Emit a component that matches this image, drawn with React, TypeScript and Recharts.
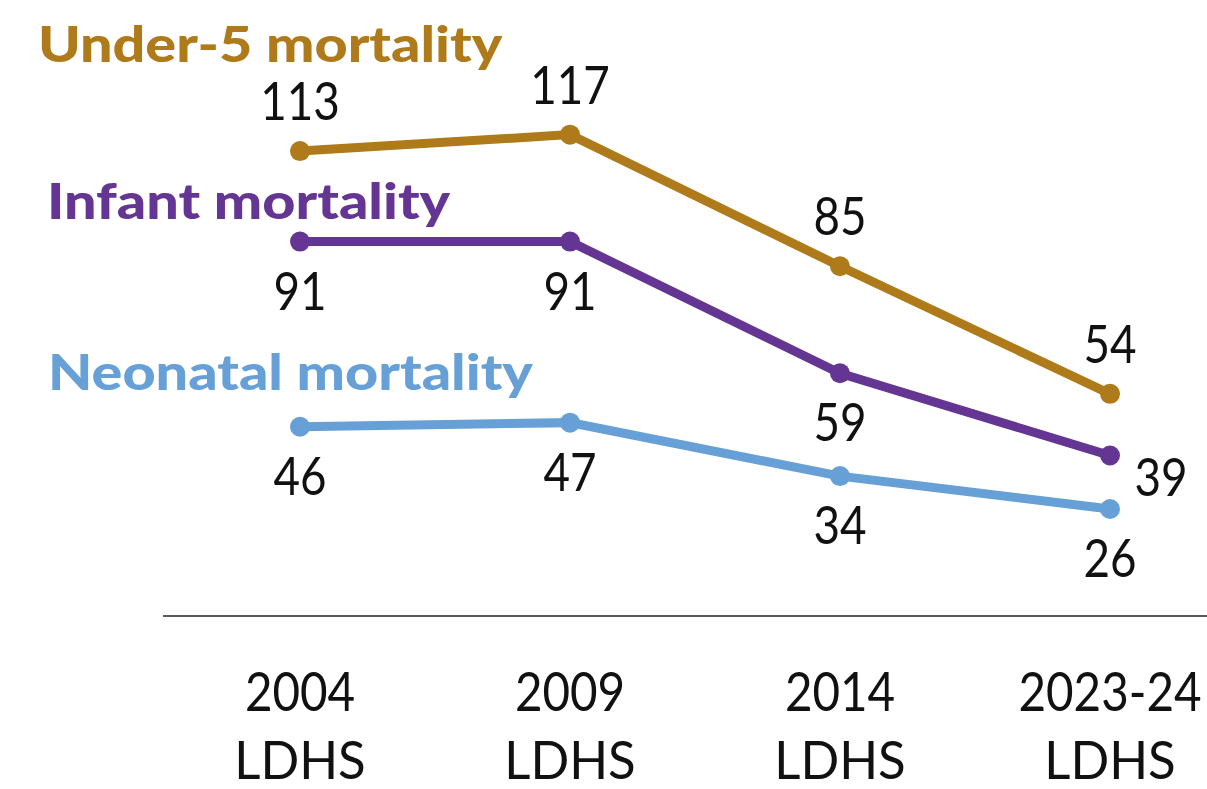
import React from "react";
import { LineChart, Line, XAxis, YAxis, LabelList, Customized } from "recharts";

const years = ["2004", "2009", "2014", "2023-24"];
const surveys = ["LDHS", "LDHS", "LDHS", "LDHS"];
const under5 = [113, 117, 85, 54];
const infant = [91, 91, 59, 39];
const neonatal = [46, 47, 34, 26];

const seriesNames = ["Under-5 mortality", "Infant mortality", "Neonatal mortality"];

const GOLD = "#AF7A19";
const PURPLE = "#643593";
const BLUE = "#67A0D6";

const data = years.map((y, i) => ({
  year: y,
  survey: surveys[i],
  u5: under5[i],
  inf: infant[i],
  neo: neonatal[i],
}));

const FONT = "Lato, 'Open Sans', sans-serif";
const SX = 0.88;

const makeLabel = (kind: string) => (props: any) => {
  const { x, y, value, index } = props;
  let dx = 0;
  let dy = 0;
  if (kind === "above") {
    dy = -31;
  } else if (kind === "infant" && index === 3) {
    dx = 51;
    dy = 40;
  } else {
    dy = 68;
  }
  return (
    <g transform={`translate(${x + dx},${y + dy}) scale(${SX},1)`}>
      <text textAnchor="middle" fontFamily={FONT} fontSize={52} fill="#111">
        {value}
      </text>
    </g>
  );
};

const Tick = (props: any) => {
  const { x, y, index } = props;
  return (
    <g>
      <g transform={`translate(${x},${y + 95}) scale(${SX},1)`}>
        <text textAnchor="middle" fontFamily={FONT} fontSize={54} fill="#111">
          {years[index]}
        </text>
      </g>
      <g transform={`translate(${x},${y + 163}) scale(0.98,1)`}>
        <text textAnchor="middle" fontFamily={FONT} fontSize={52} fill="#111">
          {surveys[index]}
        </text>
      </g>
    </g>
  );
};

const Title = ({ x, y, color, text }: any) => (
  <g transform={`translate(${x},${y}) scale(1.15,1)`}>
    <text x={0} y={0} fill={color} fontFamily={FONT} fontWeight={900} fontSize={50}>
      {text}
    </text>
  </g>
);

const Titles = () => (
  <g>
    <Title x={38} y={62} color={GOLD} text={seriesNames[0]} />
    <Title x={47} y={219} color={PURPLE} text={seriesNames[1]} />
    <Title x={48} y={390} color={BLUE} text={seriesNames[2]} />
  </g>
);

export default function App() {
  return (
    <div style={{ position: "absolute", left: 0, top: 0, width: 1207, height: 789, background: "#fff" }}>
      <LineChart width={1207} height={789} data={data} margin={{ top: 40, right: 0, bottom: 0, left: 163 }}>
        <YAxis hide domain={[0, 140]} />
        <XAxis
          dataKey="year"
          height={173}
          padding={{ left: 137, right: 97 }}
          tickLine={false}
          tickSize={0}
          tickMargin={0}
          axisLine={{ stroke: "#5a5a5a", strokeWidth: 2 }}
          tick={<Tick />}
          interval={0}
        />
        <Customized component={<Titles />} />
        <Line
          dataKey="u5"
          stroke={GOLD}
          strokeWidth={9}
          dot={{ r: 10, fill: GOLD, stroke: GOLD, strokeWidth: 0 }}
          isAnimationActive={false}
        >
          <LabelList dataKey="u5" content={makeLabel("above")} />
        </Line>
        <Line
          dataKey="inf"
          stroke={PURPLE}
          strokeWidth={9}
          dot={{ r: 10, fill: PURPLE, stroke: PURPLE, strokeWidth: 0 }}
          isAnimationActive={false}
        >
          <LabelList dataKey="inf" content={makeLabel("infant")} />
        </Line>
        <Line
          dataKey="neo"
          stroke={BLUE}
          strokeWidth={9}
          dot={{ r: 10, fill: BLUE, stroke: BLUE, strokeWidth: 0 }}
          isAnimationActive={false}
        >
          <LabelList dataKey="neo" content={makeLabel("below")} />
        </Line>
      </LineChart>
    </div>
  );
}
